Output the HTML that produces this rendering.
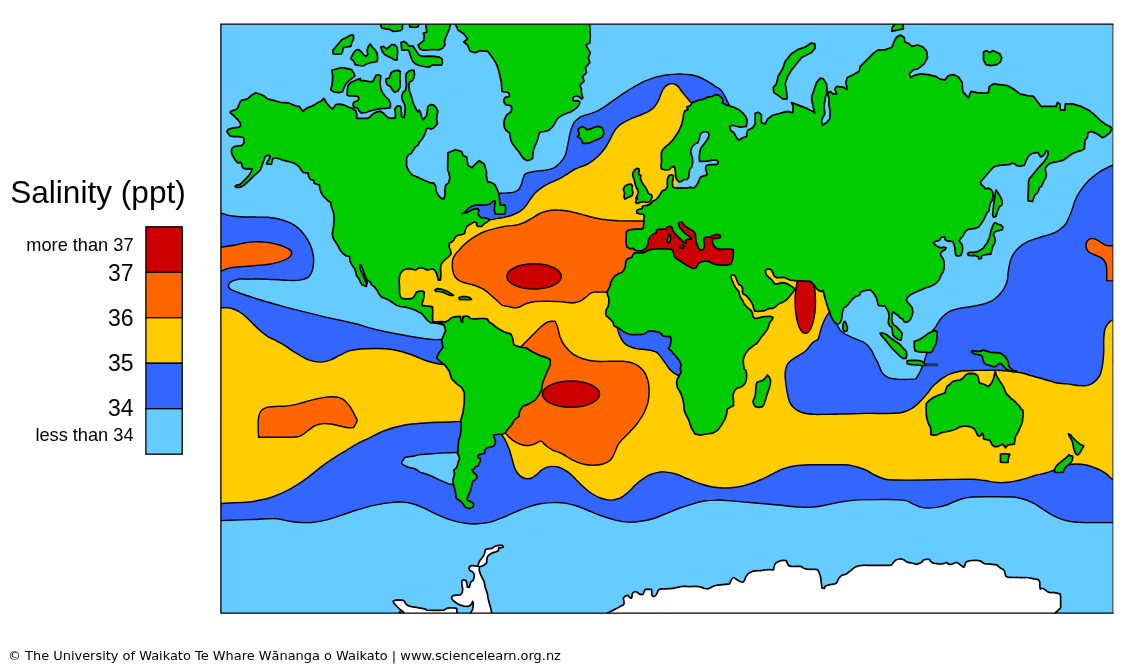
<!DOCTYPE html>
<html lang="en">
<head>
<meta charset="utf-8">
<title>Salinity (ppt)</title>
<style>
html,body{margin:0;padding:0;background:#fff;}
body{width:1130px;height:672px;position:relative;overflow:hidden;font-family:"Liberation Sans",sans-serif;color:#000;}
#map{position:absolute;left:0;top:0;width:1130px;height:672px;}
#map .s{stroke:#000;stroke-width:1.45;stroke-linejoin:round;}
#map .c{stroke-width:1.7;}
#map .a{stroke-width:1.7;}
#map .ns{stroke:none;}
.title{position:absolute;left:10.2px;top:174.3px;font-size:31.6px;line-height:36px;white-space:nowrap;}
.lab{position:absolute;right:996.5px;white-space:nowrap;text-align:right;}
.sm{font-size:18.2px;line-height:20px;}
.lg{font-size:23px;line-height:24px;}
.legend{position:absolute;left:145.3px;top:226px;width:35.3px;border:1.3px solid #000;box-sizing:content-box;}
.legend div{height:45.5px;box-sizing:border-box;border-bottom:1.3px solid #000;}
.legend div:last-child{border-bottom:none;}
.footer{position:absolute;left:8px;top:647.7px;font-family:"DejaVu Sans","Liberation Sans",sans-serif;font-size:12.95px;line-height:16px;white-space:nowrap;}
</style>
</head>
<body>
<svg id="map" width="1130" height="672" viewBox="0 0 1130 672">
<defs><clipPath id="frame"><rect x="220.9" y="24.2" width="891.9" height="589"/></clipPath></defs>
<rect x="220.9" y="24.2" width="891.9" height="589" fill="#66ccff"/>
<g clip-path="url(#frame)">
<path class="s" fill="#3366ff" d="M215,212.6C217.1,212.8 219.2,212.8 221.3,213.2C223.4,213.6 225.3,214.6 227.6,215.1C229.9,215.6 232.2,216 235.1,216.3C238,216.7 241.6,216.9 245.2,217C248.7,217.1 252.7,216.9 256.5,217C260.2,217 264.2,217 267.8,217.3C271.3,217.7 274.7,218.2 277.8,218.8C281,219.5 283.9,220.3 286.6,221.4C289.4,222.4 291.9,223.7 294.2,225.1C296.5,226.6 298.6,228.3 300.5,230.2C302.3,232 304,234.3 305.5,236.4C306.9,238.5 308.2,240.6 309.2,242.7C310.3,244.8 311.1,246.9 311.8,249C312.4,251.1 313,253.2 313.3,255.3C313.6,257.4 313.7,259.5 313.6,261.6C313.6,263.7 313.4,265.9 313,267.9C312.6,269.8 312,271.9 311.1,273.5C310.3,275.1 309.4,276.3 308,277.3C306.6,278.3 304.8,278.9 303,279.4C301.1,279.9 299.2,280.3 296.7,280.4C294.2,280.6 291,280.5 287.9,280.4C284.7,280.3 281.2,280 277.8,279.8C274.5,279.6 271.1,279.3 267.8,279.2C264.4,279 261.1,278.9 257.7,278.9C254.4,278.9 250.6,279.1 247.7,279.2C244.7,279.2 242.2,278.9 240.1,279C238,279.2 236.6,279.6 235.1,280.1C233.6,280.5 232.3,280.9 231.3,281.6C230.3,282.2 229.5,283 229.1,283.8C228.6,284.6 228.4,285.5 228.6,286.3C228.7,287.2 229.2,288.1 230.1,288.8C231,289.6 232.2,290 233.8,290.7C235.5,291.5 237.8,292.4 240.1,293.2C242.4,294.1 244.9,294.9 247.7,295.8C250.4,296.7 253.5,297.7 256.5,298.7C259.4,299.6 262.1,300.5 265.3,301.4C268.4,302.3 272,303.2 275.3,304.2C278.7,305.1 282,306.2 285.4,307.1C288.7,308 292.1,308.7 295.4,309.6C298.8,310.4 302.1,311.3 305.5,312.1C308.8,312.9 312.2,313.8 315.5,314.6C318.9,315.4 322.2,316.3 325.6,317.1C328.9,317.9 332.3,318.5 335.6,319.3C339,320 342.1,320.7 345.7,321.5C349.3,322.3 351.7,322.6 357,324C362.3,325.5 370.6,328.3 377.8,330C385,331.8 393.2,333.2 400.3,334.5C407.4,335.9 414.9,337.2 420.4,338C425.8,338.9 429.1,339.3 432.9,339.5C436.6,339.8 439.6,339.5 442.9,339.5L455.4,345L455.4,377.6L320.2,377.6L240,345L215,330.3L215,212.6Z"/>
<path class="s" fill="#3366ff" d="M215,520.6C216.8,520.6 217.2,520.7 220.5,520.6C223.8,520.5 230.1,520.3 235,520.1C240,519.9 245.1,519.8 250.1,519.6C255.1,519.4 260.5,519 265.1,518.8C269.7,518.7 273.4,518.4 277.6,518.8C281.8,519.3 286,520.7 290.1,521.3C294.3,522 298.5,522.5 302.7,522.6C306.8,522.7 311,522.6 315.2,522.1C319.4,521.6 323.5,520.7 327.7,519.6C331.9,518.5 336,517 340.2,515.6C344.4,514.2 348.6,512.7 352.7,511.3C356.9,510 361.1,508.7 365.3,507.6C369.4,506.4 373.6,505.4 377.8,504.6C382,503.7 386.1,503 390.3,502.6C394.5,502.1 399.1,501.8 402.8,502.1C406.6,502.3 409.5,502.9 412.8,503.8C416.2,504.7 419.5,506.1 422.9,507.6C426.2,509 429.5,511 432.9,512.6C436.2,514.2 439.6,515.7 442.9,517.1C446.2,518.4 449.2,519.5 452.9,520.6C456.7,521.6 461.3,522.8 465.4,523.3C469.6,523.9 473.8,524.1 478,523.8C482.1,523.6 486.4,523.1 490.5,522.1C494.6,521 498.5,519.3 502.6,517.6C506.7,515.9 511,513.8 515.1,512.1C519.3,510.3 523.5,508.4 527.7,507.1C531.8,505.7 536,504.6 540.2,503.8C544.4,503.1 548.5,502.7 552.7,502.6C556.9,502.4 561,502.4 565.2,503.1C569.4,503.7 573.6,504.9 577.7,506.3C581.9,507.7 586.1,509.7 590.3,511.3C594.4,513 598.6,514.9 602.8,516.3C607,517.8 611.1,519.1 615.3,520.1C619.5,521 623.7,521.9 627.8,522.1C632,522.3 636.2,521.9 640.4,521.3C644.5,520.8 648.7,520.1 652.9,518.8C657.1,517.6 661.2,515.5 665.4,513.8C669.6,512.2 673.7,510.4 677.9,508.8C682.1,507.3 686.3,505.8 690.4,504.6C694.6,503.3 698.8,502.1 703,501.3C707.1,500.6 711.4,500.2 715.5,500.1C719.6,499.9 722.7,500.2 727.6,500.6C732.6,500.9 738.9,501.5 745.1,502.1C751.4,502.6 758.5,503.2 765.2,503.8C771.9,504.4 779.4,505.3 785.2,505.8C791.1,506.4 795.6,506.9 800.2,507.1C804.8,507.3 808.6,507.4 812.8,507.1C816.9,506.7 820.7,505.9 825.3,505.1C829.9,504.2 835.3,502.9 840.3,502.1C845.3,501.2 849.1,500.5 855.3,500.1C861.6,499.6 869.9,499.6 877.9,499.6C885.8,499.6 897.1,499.3 902.9,500.1C908.8,500.8 910,502.6 912.9,503.8C915.9,505 917.9,506.4 920.5,507.1C923,507.8 925,508.1 928,508.1C930.9,508.1 934.8,507.6 938,507.1C941.2,506.5 944.8,505.6 947.2,504.8C949.5,504.1 949.7,503.6 952.2,502.6C954.7,501.6 958.9,499.7 962.2,498.8C965.5,497.9 967.2,497.4 972.2,497C977.2,496.7 985.6,496.8 992.3,496.8C998.9,496.8 1007.3,496.7 1012.3,497C1017.3,497.4 1019,497.9 1022.3,498.8C1025.6,499.7 1029,500.9 1032.3,502.6C1035.7,504.2 1039,506.7 1042.3,508.8C1045.7,510.9 1049,513.3 1052.4,515.1C1055.7,516.9 1059,518.5 1062.4,519.6C1065.7,520.7 1068.6,521.3 1072.4,521.8C1076.2,522.3 1080.7,522.5 1084.9,522.6C1089.1,522.7 1092.8,522.6 1097.4,522.6C1102.1,522.6 1109.2,522.6 1113,522.6C1116.7,522.6 1117.6,522.6 1120,522.6L1120,440L700,440L520,440L505,428L485,428L480,415L210,415L215,520.6Z"/>
<path class="s" fill="#3366ff" d="M1116.2,164.5C1115.1,164.7 1114.3,164.9 1113,165.3C1111.8,165.7 1110.2,166.3 1108.6,167C1107.1,167.7 1105.3,168.5 1103.6,169.5C1101.9,170.4 1100.3,171.5 1098.6,172.6C1096.9,173.8 1095.2,175 1093.6,176.4C1091.9,177.8 1090.1,179.2 1088.5,180.8C1087,182.4 1085.5,184.1 1084.1,185.8C1082.8,187.5 1081.5,189.2 1080.4,190.8C1079.2,192.5 1078.2,194.1 1077.2,195.9C1076.3,197.6 1075.4,199.6 1074.7,201.5C1074,203.4 1073.5,205.3 1072.8,207.2C1072.2,209.1 1071.7,210.9 1070.9,212.8C1070.2,214.7 1069.3,216.7 1068.4,218.5C1067.6,220.3 1067,222.3 1065.9,223.8C1064.9,225.3 1063.6,226.3 1062.1,227.5C1060.7,228.8 1059,230.2 1057.1,231.3C1055.2,232.4 1053.1,233.2 1050.8,234.1C1048.5,234.9 1045.8,235.6 1043.3,236.3C1040.8,237.1 1038.3,237.8 1035.8,238.6C1033.2,239.4 1030.5,240.3 1028.2,241.4C1025.9,242.5 1023.8,243.8 1021.9,245.1C1020,246.5 1018.4,248 1016.9,249.5C1015.4,251.1 1014.2,252.8 1013.1,254.6C1012.1,256.3 1011.3,258.2 1010.6,260.2C1009.9,262.2 1009.5,264.4 1009.1,266.5C1008.7,268.6 1008.4,270.7 1008.1,272.8C1007.8,274.9 1007.9,277 1007.5,279.1C1007.1,281.2 1006.4,283.4 1005.6,285.3C1004.8,287.3 1003.7,289.2 1002.5,291C1001.2,292.8 999.6,294.5 998.1,296C996.5,297.6 994,299.4 993,300.2C992,301 993.2,300.4 992,300.9C990.8,301.4 987.8,302.7 985.7,303.4C983.6,304.1 981.5,304.6 979.4,305C977.3,305.5 975.2,305.9 973.2,306.3C971.1,306.7 969,306.9 966.9,307.2C964.8,307.5 962.7,307.6 960.6,308.1C958.5,308.5 956.2,309.1 954.3,309.7C952.4,310.3 950.8,310.7 949.3,311.6C947.7,312.4 946.2,313.6 944.9,314.7C943.5,315.9 942.3,317.1 941.1,318.5C940,319.8 938.9,321.4 938,322.9C937,324.4 936.3,326 935.5,327.3C934.6,328.5 933.8,329.3 932.9,330.4C932.1,331.5 930.6,332.3 930.4,333.9C930.3,335.5 932.7,336.9 932.2,340C931.6,343.1 928.6,348.6 927.1,352.6C925.7,356.5 924.6,360.5 923.4,363.8C922.1,367.2 920.9,370.1 919.6,372.6C918.4,375.1 917.1,376.8 915.9,378.9C912.9,379 910.2,379.3 907.1,379.4C904,379.4 900.2,379.4 897.1,379.1C894,378.8 890.8,378.7 888.3,377.6C885.8,376.5 883.7,374.9 882.1,372.6C880.4,370.3 879.6,366.5 878.3,363.8C877,361.1 875.6,358.8 874.5,356.5C873.3,354.2 872.5,352.1 871.3,350.2C870.2,348.3 868.8,346.5 867.5,345.2C866.3,343.9 864.7,342.9 863.8,342.3C862.8,341.7 863.1,341.9 862,341.4C860.9,341 858.6,340.2 857,339.5C855.3,338.9 853.8,338.1 851.9,337.3C850.1,336.4 847.4,335.4 845.7,334.4C843.9,333.4 842.4,332.3 841.3,331.3C840.1,330.2 839.5,329 838.8,327.9C838,326.7 837.5,325.5 836.9,324.3L830,300L830,290L790,340L775,380L780,425L900,425L1000,425L1060,400L1105,380L1125,330L1116.2,164.5Z"/>
<path class="s" fill="#3366ff" d="M730,106.4C727.3,101.4 724.4,94.7 722,91.4C719.6,88.1 717.8,88.1 715.7,86.6C713.6,85.1 711.5,83.7 709.4,82.4C707.3,81.1 705.2,79.9 703.2,78.8C701.1,77.8 699,77 696.9,76.3C694.8,75.7 692.9,75.2 690.6,74.8C688.3,74.5 685.6,74.2 683,74.1C680.5,73.9 678,73.9 675.5,74.1C673,74.2 670.5,74.5 668,74.8C665.5,75.2 662.7,75.6 660.4,76.1C658.1,76.5 656.2,77 654.1,77.6C652,78.2 650,79 647.9,79.9C645.8,80.7 643.7,81.6 641.6,82.6C639.5,83.7 637.4,84.9 635.3,86.1C633.2,87.4 631.1,88.6 629,89.9C626.9,91.2 624.8,92.5 622.7,93.9C620.6,95.3 618.5,96.9 616.4,98.3C614.3,99.8 612.3,101.3 610.2,102.7C608.1,104.2 606,105.8 603.9,107.1C601.8,108.5 599.7,109.8 597.6,110.9C595.5,111.9 593.4,112.7 591.3,113.4C589.2,114.1 586.9,114.7 585,115.3C583.1,115.9 581.8,115.9 580,117.2C578.2,118.4 575.6,120.1 574,122.7C572.4,125.3 571.3,128.9 570.2,132.7C569.2,136.5 568.6,141.5 567.7,145.2C566.9,149 566.5,152.3 565.2,155.2C564,158.2 562.1,160.7 560.2,162.8C558.3,164.8 556.5,166.5 554,167.8C551.4,169 548.5,169.6 545.2,170.3C541.8,170.9 537.2,170.9 533.9,171.5C530.6,172.1 527.3,172.6 525.5,173.8C523.7,175 523.7,176.9 523,178.8C522.3,180.7 521.9,183.2 521.1,185.1C520.3,187 519.3,188.9 518,190.1C516.6,191.3 514.8,191.9 512.9,192.4C511.1,192.8 508.7,192.7 506.7,192.9C504.6,193 502.5,193.1 500.4,193.2L495.3,195.1L467.7,206.4L460.2,214L480.3,220.3L489.1,222.8L518,217.8L543.1,195.1L572,177.5L615.3,157.7L665.4,107.7L703,105.2L730,106.4Z"/>
<path class="s" fill="#ffcc00" d="M215,307.7C217.1,307.7 219.2,307.7 221.3,307.7C223.4,307.7 225.7,307.5 227.6,307.7C229.5,307.9 230.9,308.2 232.6,308.7C234.3,309.2 235.9,310 237.6,310.8C239.3,311.7 241,312.7 242.6,314C244.3,315.2 246,316.8 247.7,318.4C249.3,320 251,321.7 252.7,323.4C254.4,325.1 256.1,326.9 257.7,328.4C259.4,330 261.1,331.5 262.8,332.8C264.4,334.2 265.9,335.4 267.8,336.6C269.7,337.8 272,338.7 274.1,339.7C276.2,340.8 278.3,341.7 280.3,342.9C282.4,344 284.5,345.3 286.6,346.7C288.7,348 289.4,348.9 292.9,351.1C296.4,353.2 303.1,357.7 307.7,359.6C312.2,361.4 316.4,362 320.2,362.1C323.9,362.2 326.9,361.2 330.2,360.1C333.5,358.9 336.9,356.6 340.2,355.1C343.6,353.5 346.1,351.6 350.2,350.6C354.4,349.5 359.4,349.1 365.3,348.8C371.1,348.5 379.5,348.4 385.3,348.8C391.1,349.2 395.3,350.1 400.3,351.3C405.3,352.6 410.8,354.6 415.4,356.3C419.9,358 424.1,360.1 427.9,361.3C431.6,362.6 435.2,363.3 437.9,363.8C440.6,364.4 442.1,364.3 444.2,364.6L465.4,382.6L467.9,421.4C465.9,421.4 466.3,421.3 461.7,421.4C457.1,421.6 446.5,421.9 440.4,422.2C434.3,422.4 430.9,422.5 425,423C419.1,423.5 411.7,423.8 405,425C398.3,426.2 391.7,428 385,430.5C378.3,433 369.7,437.8 365,440C360.3,442.2 360,442.1 357,443.8C354,445.4 350.7,447.7 346.9,450.1C343.2,452.4 338.6,454.9 334.4,457.6C330.2,460.3 326,463.2 321.8,466.4C317.6,469.5 313.4,473.3 309.2,476.4C305.1,479.6 300.9,482.6 296.7,485.2C292.5,487.9 288.3,490.2 284.1,492.2C279.9,494.1 275.7,495.8 271.5,497.2C267.4,498.5 263.2,499.5 259,500.3C254.8,501.2 250.6,501.8 246.4,502.2C242.2,502.6 238,502.6 233.8,502.8C229.7,503 224.4,503.3 221.3,503.5C218.1,503.6 217.1,503.5 215,503.6L215,307.7Z"/>
<path class="s" fill="#ffcc00" d="M488.4,220.3C489.5,220.1 490,220 491.6,219.6C493.1,219.3 495.6,218.8 497.9,218.4C500.2,218 503.1,217.6 505.4,217.1C507.7,216.6 509.6,216 511.7,215.2C513.8,214.5 516.1,213.8 518,212.7C519.8,211.7 521.5,210.3 523,209C524.5,207.6 525.5,206.2 526.8,204.6C528,202.9 529.1,200.9 530.5,198.9C532,196.9 533.7,194.5 535.6,192.6C537.4,190.7 539.5,189.2 541.8,187.6C544.1,186 546.7,184.6 549.4,183.2C552.1,181.8 555.5,180.8 558.2,179.4C560.9,178.1 562.9,176.8 565.7,175C568.6,173.3 571.6,170.9 575.2,169C578.9,167.2 584,166.1 587.8,164C591.5,161.9 594.9,159.2 597.8,156.5C600.7,153.8 603.2,150.6 605.3,147.7C607.4,144.8 608.9,141.4 610.2,139.2C611.4,136.9 611.7,135.8 612.7,134.1C613.6,132.5 614.6,130.7 615.8,129.1C617.1,127.5 618.6,126 620.2,124.7C621.8,123.5 623.6,122.5 625.2,121.6C626.9,120.6 628.4,119.9 630.3,119.1C632.2,118.2 634.5,117.4 636.5,116.5C638.6,115.7 640.8,114.9 642.8,114C644.8,113.2 646.8,112.5 648.5,111.5C650.2,110.6 651.6,109.5 652.9,108.4C654.1,107.2 655.1,106 656,104.6C657,103.2 657.8,101.8 658.5,100.2C659.3,98.6 659.8,96.8 660.4,95.2C661.1,93.6 661.6,92.1 662.3,90.8C663,89.4 663.9,88.1 664.8,87C665.8,86 666.8,85.1 668,84.5C669.1,83.9 670.5,83.6 671.7,83.6C673,83.6 674.4,83.9 675.5,84.5C676.7,85.1 677.7,86 678.6,87C679.6,88.1 680.2,89.5 681.2,90.8C682.1,92 683.3,93.3 684.3,94.6C685.3,95.8 686.4,97.1 687.4,98.3C688.5,99.6 689.8,101.2 690.6,102.1C691.4,103 691.6,103.1 692.1,103.6L688,155.1L694.2,192.8L765.2,245.1L785.2,262.7L800.4,272.6L833.1,297.7L829.3,312.2C828.5,313.4 827.7,314.6 826.8,315.9C826,317.3 825.1,318.5 824.3,320.3C823.5,322.1 822.5,324.5 821.8,326.6C821.1,328.7 820.5,330.8 819.9,332.9C819.3,335 819.2,337.6 818,339.2C816.8,340.8 814.9,340.5 812.8,342.5C810.6,344.6 808.2,348.8 805.2,351.3C802.3,353.8 798.2,355.5 795.2,357.6C792.3,359.7 789.4,361.3 787.7,363.8C786,366.3 785.5,369.5 785.2,372.6C784.9,375.7 785.3,378.9 785.7,382.6C786.1,386.4 787,391.8 787.7,395.1C788.4,398.5 789.2,400.8 790,402.7C790.8,404.6 791.5,405.3 792.5,406.5C793.6,407.6 794.8,408.7 796.3,409.6C797.7,410.6 799.4,411.5 801.3,412.2C803.2,412.8 805.3,413.4 807.6,413.8C809.9,414.2 811.8,414.3 815.1,414.4C818.5,414.5 823.5,414.3 827.7,414.3C831.9,414.2 836.1,414.1 840.3,414C844.5,414 848.6,413.9 852.8,413.8C857,413.7 861.2,413.5 865.4,413.4C869.6,413.3 873.8,413.4 878,413.4C882.2,413.4 886.8,413.5 890.5,413.4C894.3,413.3 897.9,413.2 900.6,412.8C903.3,412.4 905,411.6 906.9,410.9C908.8,410.2 910.2,409.4 911.9,408.4C913.6,407.3 915.2,406.1 916.9,404.6C918.6,403.1 920.3,401.4 921.9,399.6C923.6,397.8 925.2,396.1 927,393.9C928.7,391.7 930.8,388.5 932.6,386.5C934.4,384.5 935.8,383.6 937.6,382.1C939.4,380.6 941.2,379.1 943.3,377.7C945.4,376.3 947.8,374.9 950.2,373.9C952.6,372.9 955.2,372.2 957.7,371.7C960.2,371.1 962.3,371 965.3,370.8C968.2,370.6 972,370.5 975.3,370.4C978.7,370.3 982,370.2 985.4,370.2C988.7,370.1 992.1,370.1 995.4,370.2C998.8,370.3 1002.3,370.5 1005.5,370.8C1008.6,371 1011.3,371.2 1014.3,371.7C1017.2,372.1 1020.1,372.6 1023.1,373.3C1026,374 1028.9,375 1031.9,375.8C1034.8,376.7 1037.7,377.5 1040.7,378.3C1043.6,379.2 1046.7,380.1 1049.5,380.8C1052.2,381.6 1054,382.5 1057,383C1060,383.5 1063.6,383.4 1067.4,383.9C1071.2,384.3 1076.4,385.4 1079.9,385.6C1083.5,385.8 1086.2,385.8 1088.7,385.1C1091.2,384.4 1093.1,383 1094.9,381.4C1096.8,379.7 1098.7,377.8 1099.9,375.1C1101.2,372.4 1101.8,368.8 1102.5,365.1C1103.1,361.3 1103.5,356.7 1103.7,352.6C1103.9,348.4 1103.5,344 1103.7,340C1103.9,336.1 1104.1,331.9 1105,329C1105.8,326.2 1107.4,324.3 1108.7,322.8C1110,321.2 1111.1,320.6 1113,319.8C1114.8,318.9 1117.6,318.4 1120,317.8L1120,479.5C1117.6,479.5 1115.5,480.6 1113,479.5C1110.5,478.4 1108,474.7 1105,472.8C1102,470.8 1098.3,469.1 1094.9,467.8C1091.6,466.4 1088.3,465.4 1084.9,464.8C1081.6,464.1 1078.2,463.8 1074.9,464C1071.6,464.2 1068.2,464.8 1064.9,465.8C1061.5,466.7 1058.2,468.5 1054.9,469.8C1051.5,471 1048.2,472.3 1044.8,473.3C1041.5,474.2 1038.6,474.5 1034.8,475.5C1031.1,476.6 1026.5,478.4 1022.3,479.5C1018.1,480.6 1014,481.5 1009.8,482C1005.6,482.5 1001.4,482.8 997.3,482.5C993.1,482.3 988.9,481.1 984.7,480.5C980.6,480 978.5,479.4 972.2,479.3C966,479.1 955.5,479.4 947.2,479.5C938.8,479.6 930.5,479.9 922.1,480C913.8,480.1 903.3,480.2 897.1,480C890.8,479.9 888.3,479.9 884.6,479C880.8,478.2 877.7,476.5 874.5,475C871.4,473.5 869,471.4 865.8,470C862.6,468.6 858.7,467.4 855.3,466.5C851.9,465.6 849.9,465 845.3,464.8C840.7,464.5 833.6,464.8 827.8,464.8C821.9,464.8 815.7,464.6 810.3,464.8C804.8,464.9 799.8,465 795.2,465.8C790.6,466.5 786.5,467.7 782.7,469C779,470.3 776,472.1 772.7,473.8C769.4,475.4 766.4,477.1 762.7,478.8C758.9,480.4 754.3,482.4 750.2,483.8C746,485.2 741.8,486.3 737.6,487C733.5,487.7 729.3,488 725.1,488C720.9,488 716.8,487.7 712.6,487C708.4,486.3 704.2,485.2 700.1,483.8C695.9,482.4 691.7,480.4 687.5,478.8C683.4,477.1 678.8,474.9 675,473.8C671.3,472.6 667.4,472.3 665,472C662.6,471.7 662.8,471.6 660.4,472C658,472.4 653.3,473.4 650.4,474.5C647.4,475.6 645.4,477 642.9,478.8C640.4,480.5 637.8,482.7 635.3,485C632.8,487.3 630.3,490.4 627.8,492.5C625.3,494.7 623.2,496.8 620.3,498C617.4,499.3 613.6,500.1 610.3,500.1C607,500.1 603.4,499.1 600.3,498C597.2,497 594,494.9 591.8,493.5C589.5,492.1 588.4,491.1 586.8,489.7C585.1,488.3 583.4,486.9 581.7,485.3C580.1,483.7 578.4,481.9 576.7,480.3C575,478.6 573.4,476.7 571.7,475.2C570,473.7 568.3,472.4 566.7,471.2C565,470.1 563.3,469.1 561.6,468.3C560,467.6 558.3,467 556.6,466.7C554.9,466.4 553.3,466.3 551.6,466.4C549.9,466.6 548.2,466.8 546.5,467.4C544.9,468.1 543.1,469.1 541.5,470.2C540,471.3 538.6,473 537.1,474.2C535.7,475.4 534.3,476.7 532.7,477.5C531.2,478.3 529.4,478.8 527.7,478.8C526,478.8 524.2,478.3 522.7,477.5C521.1,476.7 519.5,475.4 518.3,474C517,472.6 516,470.7 515.1,469C514.3,467.2 513.9,465.4 513.2,463.3C512.6,461.2 512,458.6 511.4,456.4C510.7,454.2 510.2,452.2 509.5,450.1C508.7,448 507.8,445.7 507,443.8C506.1,441.9 505.3,440.3 504.5,438.8C503.6,437.3 502.8,436.3 501.9,435L500.4,431.3L490.1,395.1L477.6,332.5L455.4,327.9L432.5,322.3L427.8,312.8L411.4,304L397.6,300.9L392.6,287.7L392.6,262.6L430.3,262.6L445.3,250L446.3,240.4L460.2,229.1L472.7,220.3L482.8,221.5L488.4,220.3Z"/>
<path class="s" fill="#3366ff" d="M615.8,325.3C616.2,325.9 616.6,326.1 617,327.2C617.4,328.2 617.8,330 618.3,331.6C618.8,333.1 619.4,335 620.2,336.6C620.9,338.2 621.6,339.6 622.7,341C623.7,342.4 625,343.7 626.4,344.8C627.9,345.8 629.6,346.6 631.5,347.3C633.4,348 635.7,348.6 637.8,348.9C639.8,349.3 641.9,349.2 644,349.4C646.1,349.6 648.4,349.8 650.3,350.2C652.2,350.6 654,351.1 655.3,351.7C656.7,352.3 656.9,352.1 658.5,353.9C660.1,355.8 663.5,360.6 665,362.7C666.5,364.8 666.6,365.2 667.5,366.4C668.5,367.7 669.5,369.1 670.7,370.2C671.8,371.4 673.3,372.6 674.4,373.4C675.6,374.1 676.7,374.6 677.6,375C678.4,375.3 678.8,375.3 679.5,375.5L690.1,367.7L690.1,332.5L640.3,325.3L615.8,325.3Z"/>
<path class="ns" fill="#66ccff" d="M678.5,180.9 674.8,187.8 690.5,190.3 700.5,182.8 709.3,175.2 709.3,166.4 719.4,163.9 719.4,158.9 710.6,130 698,130 688,142.6 686.7,167.7 688,180.3Z"/>
<path class="s" fill="#ff6600" d="M215,247.5C217.1,247.4 219.2,247.3 221.3,247.1C223.4,246.9 225.3,246.6 227.6,246.2C229.9,245.9 232.6,245.5 235.1,245C237.6,244.5 240.1,243.8 242.6,243.4C245.2,242.9 247.7,242.3 250.2,242.1C252.7,241.8 255.2,241.8 257.7,241.8C260.2,241.8 262.8,241.8 265.3,242.1C267.8,242.3 270.3,242.8 272.8,243.4C275.3,243.9 278,244.5 280.3,245.2C282.6,246 285,246.9 286.6,247.8C288.3,248.6 289.6,249.4 290.4,250.3C291.2,251.1 291.7,251.8 291.7,252.8C291.7,253.7 291.2,254.9 290.4,255.9C289.6,257 288.3,258.1 286.6,259.1C285,260 282.6,260.8 280.3,261.6C278,262.3 275.3,262.9 272.8,263.5C270.3,264 267.8,264.4 265.3,264.7C262.8,265 260.2,265.1 257.7,265.3C255.2,265.6 252.7,265.8 250.2,266C247.7,266.2 245.2,266.4 242.6,266.6C240.1,266.8 237.6,266.9 235.1,267.2C232.6,267.5 229.9,267.9 227.6,268.5C225.3,269.1 223.4,270.5 221.3,271C219.2,271.5 217.1,271.4 215,271.6L215,247.5Z"/>
<path class="s" fill="#ff6600" d="M258.6,437.2C258.5,434.9 258.3,432.7 258.2,430.3C258.2,427.9 258.1,425 258.2,422.7C258.3,420.4 258.4,418.3 258.8,416.4C259.3,414.6 259.8,412.8 260.7,411.4C261.7,410.1 262.9,409 264.5,408.3C266.1,407.5 268,407.1 270.2,406.8C272.4,406.5 275.2,406.5 277.7,406.4C280.2,406.3 282.7,406.3 285.2,406.1C287.8,405.9 290.3,405.6 292.8,405.1C295.3,404.7 297.8,403.9 300.3,403.2C302.8,402.6 305.3,401.8 307.9,401.1C310.4,400.4 312.9,399.7 315.4,399.1C317.9,398.5 320.4,398 322.9,397.6C325.5,397.2 328.2,396.8 330.5,396.7C332.8,396.6 334.9,396.7 336.8,397C338.6,397.3 340.3,397.9 341.8,398.6C343.3,399.3 344.3,400.2 345.6,401.4C346.8,402.6 348.2,404.2 349.3,405.8C350.5,407.3 351.5,409.1 352.5,410.8C353.4,412.5 354.2,414.3 355,415.8C355.8,417.3 357,418.6 357.1,420C357.2,421.3 356.2,422.7 355.6,424C355,425.2 354.4,426.3 353.7,427.5C352.3,427.6 351.1,427.9 349.3,427.8C347.5,427.6 345.1,427.2 343,426.7C340.9,426.3 338.9,425.7 336.8,425.2C334.7,424.8 332.6,424.3 330.5,424C328.4,423.7 326.1,423.6 324.2,423.6C322.3,423.6 320.8,423.8 319.2,424.2C317.5,424.7 315.7,425.4 314.1,426.2C312.6,427.1 311.2,428.2 309.7,429.3C308.3,430.3 306.7,431.8 305.3,432.8C304,433.8 302.9,434.6 301.6,435.3C300.2,436 299.1,436.5 297.2,436.8C295.3,437.1 293.5,437.1 290.3,437.2C287,437.2 281.9,437.2 277.7,437.2C273.5,437.2 268.3,437.2 265.1,437.2C261.9,437.2 260.8,437.2 258.6,437.2Z"/>
<path class="s" fill="#ff6600" d="M642.5,221C639.4,221 636.8,221 633.1,221C629.4,221 623.7,221 620.5,220.9C617.4,220.8 616.3,220.7 614.2,220.5C612.2,220.4 610.1,220.2 608,220C605.9,219.8 603.8,219.6 601.7,219.3C599.6,218.9 597.5,218.5 595.4,218C593.3,217.5 591.2,217.1 589.1,216.5C587,215.9 584.9,215.2 582.8,214.6C580.7,214 578.6,213.5 576.5,213C574.5,212.5 572.4,211.9 570.3,211.5C568.2,211.1 566.1,210.7 564,210.5C561.9,210.2 559.8,210 557.7,210C555.6,209.9 553.5,210 551.4,210.2C549.3,210.5 547.2,210.8 545.1,211.5C543,212.1 540.9,212.9 538.8,214C536.8,215 534.7,216.5 532.6,217.8C530.5,219 528.4,220.5 526.3,221.5C524.2,222.6 521.8,223.4 520,224C518.2,224.7 517.5,225 515.5,225.3C513.4,225.6 510.4,225.6 507.9,225.9C505.4,226.2 502.9,226.7 500.4,227.2C497.9,227.7 495.1,228.4 492.8,229.1C490.5,229.7 488.6,230.2 486.5,230.9C484.5,231.7 482.4,232.4 480.3,233.5C478.2,234.5 476.1,235.9 474,237.2C471.9,238.6 469.6,240.2 467.7,241.6C465.8,243.1 464.1,244.6 462.7,246C461.2,247.5 460.3,248.8 459.2,250.2C458,251.5 456.7,252.6 455.6,254C454.6,255.5 453.5,257 452.9,258.8C452.3,260.6 452.3,263 452.3,265.1C452.3,267.2 452.5,269.5 452.9,271.4C453.3,273.2 453.8,274.9 454.8,276.4C455.7,277.9 457,279.1 458.5,280.2C460.1,281.2 462.2,282 464.2,282.7C466.2,283.3 468.4,283.6 470.5,284.2C472.6,284.8 474.7,285.4 476.8,286.2C478.9,287 481.2,287.9 483,289C484.9,290 486.4,291.4 488.1,292.7C489.7,294.1 491.4,295.7 493.1,297.1C494.8,298.6 496.6,300.2 498.1,301.5C499.7,302.9 500.7,304.5 502.5,305.3C504.3,306.1 506.9,306.1 508.8,306.5C510.7,307 512.1,307.7 513.8,307.8C515.5,307.9 517.2,307.7 518.8,307.2C520.5,306.7 522.2,305.4 523.9,304.7C525.6,303.9 527,303.3 528.9,302.8C530.8,302.3 532.9,301.8 535.2,301.5C537.5,301.3 540.2,301.3 542.7,301.3C545.2,301.2 547.8,301.2 550.3,301.3C552.8,301.3 555.3,301.4 557.8,301.5C560.3,301.7 563,301.9 565.3,302.2C567.6,302.4 569.7,302.8 571.6,302.8C573.5,302.8 575,302.6 576.7,302.2C578.3,301.7 580,301.2 581.7,300.3C583.4,299.3 585.2,297.6 586.7,296.5C588.2,295.3 589.2,294.1 590.5,293.4C591.7,292.6 592.6,292.3 594.2,292.1C595.9,291.9 598.4,292.1 600.5,292.1C602.6,292.1 604.7,292.1 606.8,292.1L613.1,287.7L630.3,290.2L628.8,265.3L641.7,254L641.7,250.3L647.7,237.7L647.7,220.7L642.5,221Z"/>
<path class="s" fill="#ff6600" d="M547.7,322C550.2,321 552.7,321.5 555.2,321.3C556,323.3 556.9,324.8 557.7,327.5C558.5,330.2 559,334.4 560.2,337.5C561.5,340.7 563.1,343.6 565.2,346.3C567.3,349 569.8,351.7 572.7,353.8C575.7,355.9 579,357.6 582.8,358.8C586.5,360.1 590.7,360.9 595.3,361.3C599.9,361.7 605.7,361.3 610.3,361.3C614.9,361.3 619.1,361 622.8,361.3C626.6,361.6 629.9,362 632.8,363.1C635.8,364.1 638.3,365.8 640.4,367.6C642.4,369.4 644,371.3 645.4,373.8C646.7,376.3 647.7,379.5 648.4,382.6C649,385.7 649.2,389.3 649.1,392.6C649,396 648.7,399.3 647.9,402.6C647,406 645.8,409.3 644.1,412.7C642.4,416 640.1,419.6 637.8,422.7C635.6,425.8 632.8,428.7 630.3,431.4C627.8,434.2 624.9,436.7 622.8,439C620.7,441.3 619.3,442.7 617.8,445.2C616.4,447.7 615.3,451.5 614.1,454C612.8,456.5 612.2,458.6 610.3,460.2C608.4,461.9 605.7,463.2 602.8,464C599.9,464.8 596.1,465.3 592.8,465.3C589.4,465.3 586.1,464.8 582.8,464C579.4,463.2 576.1,461.9 572.7,460.2C569.4,458.6 566,455.7 562.7,454C559.4,452.3 555.3,451.3 552.8,450.1C550.3,448.9 549.3,448 547.8,447C546.3,445.9 545.1,444.8 544,443.8C543,442.9 542.4,441.7 541.5,441.3C540.7,440.9 540.1,441.2 539,441.6C538,441.9 536.7,442.9 535.2,443.6C533.8,444.2 532.1,445 530.2,445.3C528.3,445.6 526,445.7 523.9,445.3C521.8,445 519.5,444.1 517.6,443.2C515.8,442.3 514.1,441.1 512.6,440.1C511.2,439 510,438 508.8,436.9C507.7,435.8 506.8,434.6 505.7,433.4L500.4,430.1L502.6,370.1L521.4,346.3C522.6,345 523.3,344.4 525.2,342.5C527,340.7 530.2,337.5 532.7,335C535.2,332.5 537.7,329.7 540.2,327.5C542.7,325.3 545.2,323 547.7,322Z"/>
<path class="s" fill="#ff6600" d="M1116.2,245.8L1113,245.8C1111.6,245.8 1110,245.9 1108.6,245.8C1107.3,245.6 1106.1,245.4 1104.9,244.9C1103.6,244.4 1102.4,243.4 1101.1,242.6C1099.8,241.8 1098.6,240.8 1097.3,240.1C1096.1,239.4 1094.8,238.8 1093.6,238.6C1092.3,238.4 1090.9,238.4 1089.8,238.8C1088.7,239.3 1087.7,240.3 1087,241.4C1086.4,242.4 1086.1,243.9 1086,245.1C1086,246.4 1086.2,247.8 1086.6,248.9C1087.1,250 1087.6,250.8 1088.5,251.7C1089.5,252.5 1090.8,253.2 1092.3,253.9C1093.8,254.6 1095.9,255.2 1097.3,255.8C1098.8,256.4 1099.9,256.9 1101.1,257.7C1102.2,258.5 1103.4,259.7 1104.2,260.8C1105.1,262 1105.7,263.2 1106.1,264.6C1106.5,266 1106.6,267.4 1106.8,269C1106.9,270.6 1106.8,272.1 1106.8,274C1106.8,276 1106.8,278.4 1106.8,280.6L1113,280.9L1116.2,280.9L1116.2,245.8Z"/>
<ellipse class="s" fill="#cc0000" cx="534.1" cy="276.4" rx="27.2" ry="12.6"/>
<ellipse class="s" fill="#cc0000" cx="571" cy="394.1" rx="28.6" ry="13.1"/>
<ellipse class="s" fill="#cc0000" cx="805.3" cy="301.5" rx="10.2" ry="32"/>
<path class="s" fill="#cc0000" d="M641.7,249.6 641.7,254 672.8,260.3 695.5,270.4 735.7,266.6 735.7,247.8 723.1,232.7 698,220.1 677.9,220.1 647.7,231.4Z"/>
<path class="s" fill="#66ccff" d="M401.6,462.8C401.4,461.2 404.1,459.1 405.3,457.2C408.7,456.7 412.9,456.2 415.4,455.7C417.8,455.3 417.1,454.9 420,454.6C422.9,454.2 428.4,454 432.6,453.7C436.8,453.4 440.9,453.1 445.1,452.9C449.3,452.7 453.5,452.6 457.7,452.4L462.7,457.7L462.7,485.3L452.9,484.3C451.6,484.3 450.2,484.4 448.9,484.1C447.6,483.7 446.8,482.9 445.1,482.2C443.5,481.5 440.9,480.6 438.8,479.7C436.8,478.7 434.7,477.5 432.6,476.5C430.5,475.6 428.4,474.8 426.3,474C424.2,473.3 421.8,473 420,472.2C418.2,471.3 417.6,470 415.4,469C413.1,468.1 408.9,467.6 406.6,466.5C404.3,465.5 401.8,464.3 401.6,462.8Z"/>
<path class="s c" fill="#00cc00" d="M234.9,186.4 236.4,185.2 239.5,184.6 242,182.7 244.5,180.2 247,177.6 249.6,174.5 251.4,171.4 252.1,168.8 248.3,168.6 244.5,168.8 242.6,167.6 241.6,163.8 240.1,161.9 238.2,163.2 235.7,160.7 233.8,157.5 232,154.4 231.3,151.3 232,148.4 234.5,146.5 238.2,145.9 242,145.3 243.7,143.4 244.2,140.3 243.3,137.5 238.9,136.7 233.8,136.7 230.1,135.9 228.2,133.4 226.9,131.5 228.2,129.6 231.3,128.3 235.7,127.7 239.5,127.1 240.8,125.2 240.1,122.7 238.2,120.2 235.7,117.6 233.2,115.1 230.7,113.2 230.1,112 232,110.7 235.1,110.1 237.6,108.2 238.9,105.1 240.1,101.9 242,100.1 245.8,99.4 248.3,98.2 250.2,96.3 252.7,94.4 255.8,92.8 258.4,93.8 262.1,95 264.6,96.3 266.5,98.2 269,99.4 272.8,100.1 276.6,101.3 280.3,102.3 285.4,102.6 289.1,103.2 292.9,104.8 296.7,106.3 299.2,106.3 301.1,108.8 303,111.4 304.8,109.5 308,107.6 311.8,106.3 314.9,104.5 318,102.6 321.2,101.1 323.8,98.3 325.3,100.8 326.9,103.3 329.4,106.4 332.6,109 334.5,106.4 335.7,104.6 340.1,104.2 344.5,105.2 348.3,107.1 352,108.3 355.8,110.8 356.7,114 356.7,118.4 361.5,118.4 367.8,118.4 370.3,116.5 372.8,114 376.5,112.1 380.3,111.2 382.8,112.7 385.3,115.2 388.5,117.8 391.6,118.4 395.4,117.8 395.4,112.7 394.8,109 396.7,106.4 399.8,105.8 401.1,107.7 401.4,112.7 401.7,117.1 404.2,117.5 404.8,112.7 405.2,107.7 404.4,103.9 402.3,100.2 401.7,96.4 402.9,92.6 405.5,90.1 406.5,85.1 405.7,78.8 406.1,73.8 408.6,71.3 411.1,70.3 414,70.3 414.5,73.8 414,77.5 412.4,80.7 409.5,81.9 409,86.3 409.5,91.4 411.1,95.1 412.4,100.2 414,105.2 416.1,109 417.8,112.1 419.3,110.2 420.5,112.7 421.5,116.5 423,119.6 424.9,117.8 426.8,115.2 427.4,110.2 427.8,106.4 430.6,104.6 433.7,105.2 436.2,107.7 437.9,111.5 436.9,115.2 436.6,119.6 437.5,123.4 435.6,125.9 433.1,128.4 430.6,129.1 428.1,127.8 426.2,129.7 425.3,132.8 423.7,136.6 421.5,139.7 419.3,142.3 417.8,145.4 415.5,146.7 413,150.4 411.1,153.9 409.1,154 406.6,157.7 406.6,166.5 409.1,171.5 412.8,175.3 417.9,177.3 424.1,180.3 430,182.6 433.8,183.2 435.7,186.3 436.3,191.4 438.2,195.1 441.3,198.3 443.8,198.9 445.1,195.1 444.8,190.1 445.7,185.1 448.8,182.6 449.9,177.5 448.8,172.5 447.6,170 447.9,152.7 455.4,149.7 461.7,151.5 462.9,155.2 466.7,157.2 467.9,165.3 471.7,167.8 475.5,164 479.2,160.7 484.2,164 486.7,172.8 486.3,173.8 486.8,178.8 487.8,181.9 491.6,182.6 494.7,184.5 496.6,188.2 498.5,192.6 499.4,197 499.7,201.4 500.4,205.2 505.4,205.2 505.6,210.2 505.1,214 500.4,214.2 495.3,214 494.3,210.2 494.7,205.2 495.1,200.8 492.8,201.4 490.3,203.9 485.3,205.2 480.3,204.9 475.2,205.2 471.5,206.4 467.7,209 464.6,212.1 462,213.7 466.4,212.7 470.2,210.8 474,209 477.5,208.7 479,210.2 477.8,213.4 479,215.9 481.5,217.8 485.3,218 488.4,218.8 489.1,220.3 487.2,221.8 484,224 481.5,226.3 478.4,226.5 476.7,225.3 476.5,222.8 474.6,221.8 471.5,223.4 468.3,225.3 466.4,227.2 465.2,230.3 464.6,233.5 461.4,234.7 457.6,235.3 455.1,237.2 453.6,240.4 451.4,242.3 449.5,242.9 449.1,246.7 450.4,250.4 451.1,253.9 451,253.8 448.5,256.9 445.3,259.4 442.8,261.9 440.9,264.5 440.6,268.8 440.9,275.1 440.3,280.2 438.4,280.2 437.6,277 436.5,273.2 434.7,270.1 432.2,268.8 429.6,269.5 427.1,270.1 424.6,268.8 421.5,267.6 418.3,268.2 415.8,269.9 413.3,269.5 410.2,268.8 407,268.6 404.5,269.5 402,271.4 400.1,273.9 399.5,277 399.1,281.4 399.5,286.4 399.5,292.7 400.1,296.5 402,298.4 405.1,298.8 410.2,298.8 413.3,297.8 415.2,294.6 416.4,292.1 419,291.2 422.7,291.2 424.2,292.1 424,295.9 423.4,299.6 422.1,303.4 422.1,305.3 425.2,305.9 430.3,306.3 432.5,306.8 432.8,311.6 432.5,316.6 432.8,321.6 436.5,321.9 441.6,321.6 445.3,321.9 448.5,320.4 450.4,318.5 452.9,317.2 456.7,316.6 460.4,316.4 461.1,321.6 462.3,322.3 462.9,316.6 466.7,316 468.6,316.6 470.5,318.5 475.5,318.9 480.5,318.5 484.3,318.5 487.4,319.1 489.3,322.3 492.5,324.1 495.6,326.7 499.4,329.2 503.8,331.7 506.9,332.9 510.7,333.9 512.6,338 513.9,345 520.1,347 526.4,348 531.4,351.3 538.9,355.1 545.2,357.1 550.2,359.6 550.2,365.1 547.7,370.1 545.2,376.3 542.7,382.6 541.4,390.1 538.9,395.1 535.2,400.1 528.9,403.9 522.6,406.4 519.6,411.4 518.9,416.4 514.2,420 513,422.5 511.1,425.7 508.6,428.2 506.7,430.7 505.5,433.2 501.7,434.1 496.7,434.5 493.5,434.8 494.1,437.6 495.4,440.7 495.1,443.9 493.5,446.4 490.4,447 486.6,447.9 484.7,450.2 484.7,453.3 481.6,453.9 478.4,454.9 477.8,457.7 480.3,458.3 480.6,460.8 479.1,463.4 478.1,465.9 475.3,466.7 474,469 472.2,470 473.4,472.5 475.9,474.4 477.2,476.9 475.9,479.4 473.4,480.7 472.2,483.2 471.5,486.3 470.9,489.5 469.6,492.6 468.4,495.1 467.1,498.3 467.8,500.8 470.3,501.4 472.8,502.7 473.8,505.2 472.8,507.1 470.3,508.3 467.8,508.3 465.2,507.1 463.4,504.6 461.5,502 459,500.2 456.4,498.3 455.8,494.5 455.2,490.7 454.2,487 453.3,483.2 452.9,480.1 453.7,476.9 454.6,473.8 453.7,470 454.6,469.6 456.4,467.8 457.7,464.6 458.3,461.5 459.6,459 459,456.4 457.7,453.9 458,450.2 458.3,445.1 458.7,440.1 460.2,436.3 460.8,431.3 461.2,425 460.8,420 463,412.7 464.3,402.6 464.3,392.6 461.8,387.6 456.8,383.9 451.8,378.9 449.3,371.3 445,365.1 440,361.3 436.6,357.6 439.1,352.6 442.9,347.5 441.7,340 444.2,333.8 445.6,330.4 444.6,326.7 443.7,324.4 439.3,323.4 435.3,322.9 430.5,322.6 427.4,320.4 424.9,317.2 422.4,314.1 419.2,312.2 415.5,310.3 410.4,308.4 405.4,307.2 400.4,306.5 396.6,305.3 392.8,302.8 389.1,300.3 385.3,298.4 381.5,297.1 379,294 377.1,290.2 374.6,287.1 371.5,284.6 370.2,282 367.7,280.2 365.8,278.3 365.2,280.2 366.7,283.9 366.4,286.4 362,284.8 360.5,282.3 359,278.7 356.4,275.4 355.8,271.6 354.5,268.5 352.1,265.3 349.9,260.9 349.5,256.3 345.7,255.7 342.6,253.1 340.1,250 337.7,245.3 335.2,241.5 332.9,237.8 332.4,233.4 333.1,229.2 333.8,224.1 334.1,219.1 333.8,214.1 332.5,209.7 331.2,205.9 330.6,202.2 328.1,200.9 325.6,198.4 323.1,195.9 321.2,192.7 319.9,189 319.3,184.9 316.8,184.2 314.3,183.3 313.6,180.2 310.5,179.5 308.6,176.4 308,172.9 303.6,172.6 301.7,170.7 299.8,167.6 297.3,165.1 294.2,163.2 290.4,161.9 286.6,161.1 282.9,160.1 279.1,158.8 275.3,157.8 273.1,158.5 272.2,160.7 271.5,164.1 266.5,163.8 267.2,161.9 269,159.4 270.3,156.9 269.7,155.3 266.5,155.7 265,156.9 264.3,159.4 263,162.6 261.7,166.3 260.2,170.1 257.7,172.6 254.6,175.1 251.4,178.3 248.3,181.4 245.2,184.2 242,186.4 239.5,187.4 236.4,187.4Z"/>
<path class="s c" fill="#66ccff" d="M359.7,265.3 360.9,264.8 362.2,267.8 363.7,272.1 365.3,276.4 366.6,280.2 367.2,283.4 366.1,283.2 364.8,279.7 362.9,275.4 361,271 359.9,267.8Z"/>
<path class="s c" fill="#00cc00" d="M455.5,24.3 458,30 463.8,33.8 467.5,38.8 463.8,42 467.5,45 470.1,51.3 475.1,52.6 480.1,50.6 487.6,51.3 492.6,57.6 496.3,63.8 498.9,71.3 501.4,82.6 502,91.5 505.1,91.9 508.3,92.5 509.5,95 508.7,96.9 505.1,97.3 503.9,99.4 504.1,102.6 505.8,104.8 509.5,105.3 511.4,106.3 511.7,109.5 510.8,112 508.3,113.6 506.1,115.8 504.5,119.5 503.9,123.9 504.5,127.7 506.4,130.8 509.5,132.7 510.2,136.5 510.8,140.3 512.4,143.4 514.6,146.5 517.1,149.7 519.6,152.8 521.5,156 524,158.9 527.1,160.6 530.3,159.7 532.5,158.5 532.8,154.7 533.4,150.3 534.7,146.5 536.3,142.8 537.8,139 538.8,134.6 539.7,132.1 544.1,131.5 548.5,130.5 551.6,127.7 554.1,124.6 556,120.8 558.5,117.6 562.3,115.1 566.7,113.2 570.5,112 573.6,110.1 576.8,107.6 579,104.8 579.9,101.9 578,100.7 574.2,101.1 572.7,99.4 573.6,96.9 576.1,95.7 579.3,96.9 581.8,99 582.8,97.5 581.8,94.4 581.2,91.3 581.5,88.9 579.7,85.1 584,81.4 582.8,76.3 586.5,72.6 585.3,67.6 589.8,62.6 588.3,57.6 590.3,52.6 585.8,45 589.8,43 590.3,35 589.5,22.5 455.5,22.5Z"/>
<path class="s c" fill="#00cc00" d="M577.4,136.5 579.3,134.6 578.6,132.1 578,129.6 579.9,127.7 582.4,126.7 584.9,127.7 586.8,129.6 590,129.2 593.1,127.7 596.2,126.7 599.4,126.4 601.9,127.7 603.4,130.2 603.8,133.4 602.5,136.5 600,138.4 596.9,139.6 593.7,140.9 590.6,142.5 586.8,143.4 583,143.4 582,140.9 580.5,138.4Z"/>
<path class="s c" fill="#00cc00" d="M773.2,87.6 776.4,83.9 778.2,76.3 782.7,68.8 785.2,61.3 791.5,53.8 797.7,49.6 805.2,47 811.5,43 814.8,43.8 815.3,48 811.5,52.6 806.5,55.1 801.5,57.6 796.5,63.8 791.5,70.1 787.7,76.3 785.2,83.9 786.5,91.4 787.2,98.9 782.7,98.9 777.7,95.1 773.9,92.6Z"/>
<path class="s c" fill="#00cc00" d="M891.7,31.3 892.4,27 896.7,22.5 902.9,22.5 903.4,28.8 897.9,30Z"/>
<path class="s c" fill="#00cc00" d="M983.5,52.1 986.7,50.6 989.8,52.6 992.8,50.6 996,52.1 999.8,53.8 1001.8,57.6 1000.3,62.1 996.8,64.6 991,65.6 986,64.6 983.5,60.1Z"/>
<path class="s c" fill="#00cc00" d="M692.5,102.6 698.8,100.1 703.8,99.1 707.5,97.2 711.9,96.5 715.7,94.7 718.8,95.3 722,97.8 723.2,101.6 722,102.8 724.5,104.1 729.5,106 733.9,107.2 739,109.7 742.7,112.9 745.9,116.7 747.1,120.4 746.4,126.4 740.1,127.2 732.6,125.2 729.6,126.4 730.6,130.2 733.9,132.7 736.4,137.7 738.9,140.2 742.6,137.7 746.4,136.5 747.6,130.2 752.7,127.7 755.2,123.9 755.2,113.2 758.2,112.2 761.4,114.7 761.4,122.7 765.2,123.9 767.7,118.9 772.7,115.2 780.2,113.2 787.7,111.4 792.7,112.7 793.2,106.4 791.5,102.6 795.2,103.9 801.5,106.4 807.8,108.9 812.8,111.4 814.8,113.2 812.8,105.2 811.5,97.6 814,90.1 816.5,82.6 820.3,78.1 823.3,78.9 826.5,83.9 827.3,91.4 825.3,97.6 824,106.4 824.8,113.9 821.5,120.2 822.3,125.2 826.5,122.7 829.8,118.9 830.3,111.4 829,105.2 829,97.6 827.3,93.9 830.3,91.4 832.8,93.9 836.6,93.9 834.8,88.9 836.6,86.4 842.8,87.1 847.3,89.6 845.8,82.6 847.3,77.6 852.8,75.1 859.1,71.3 860.3,66.3 864.1,62.6 869.1,57.6 874.1,52.6 877.9,50.1 885.4,49.6 891.7,47.5 894.2,41.3 896.7,37 900.4,35 904.2,37.5 904.9,42 909.2,43.8 911.7,46.3 917.9,45 923,47 926.7,51.3 927.5,57.6 924.2,63.8 917.9,68.8 912.9,70.1 909.2,73.8 910.4,77.6 915.4,75.1 920.5,73.8 928,74.6 935.5,76.3 939.7,78.9 944.7,80.1 948.4,75.6 953.4,74.6 958.4,77.1 962.2,82.6 962.7,91.4 966,95.1 968.5,97.6 971,91.4 977.2,92.6 984.7,93.1 988.5,92.6 989.3,86.4 993.5,83.9 999.8,84.6 1007.3,85.6 1013.5,88.9 1019.8,93.9 1027.3,95.6 1033.6,96.4 1037.3,101.4 1041.1,106.4 1049.9,106.4 1056.1,106.4 1057.4,102.6 1059.9,103.9 1060.4,110.2 1064.9,110.2 1065.4,103.9 1072.4,103.9 1081.2,106.4 1088.7,110.2 1094.9,115.2 1099.9,120.2 1105,123.9 1110,126.4 1112,128.9 1110,132.7 1105,136.5 1102.5,137.7 1097.4,134 1091.2,131.4 1087.9,132.7 1087.4,137.7 1084.9,140.2 1084.4,149 1081,150.6 1076,151.9 1072.2,153.8 1068.4,156.3 1065.3,158.8 1063.4,160.1 1058.4,161.3 1053.3,162.3 1049.6,163.6 1047.1,165.7 1045.2,168.2 1045.6,171.4 1046.4,174.5 1045.6,178.3 1043.9,180.8 1042.7,183.9 1041.4,186.4 1039.3,187.7 1038.5,190.8 1037,193.4 1034.7,195.2 1033.5,198.4 1032.6,201.5 1028.2,200.9 1028.2,194 1028.5,187.7 1028.5,181.4 1029.5,178.3 1032,175.8 1034.5,172.6 1037,169.5 1039.8,166.3 1042.7,163.2 1045.2,160.1 1047.1,156.9 1048.1,153.8 1047.7,151 1046.1,150.6 1045.2,153.1 1043.3,155.7 1040.8,156.9 1039.3,155 1038.3,152.5 1035.1,152.8 1031.4,153.8 1028.8,155.7 1027.2,158.2 1025.7,161.9 1024.4,165.1 1020.7,166.1 1016.9,165.7 1014.4,163.6 1011.2,163.2 1010,164.5 1005.6,164.8 1000.6,165.1 995.5,166.1 993,167.6 990.5,170.1 988,173.2 982.2,180 980.3,182.5 981.6,185 984.1,186.9 985.3,188.8 988.5,188.2 991,189.4 992.9,192.6 993.1,196.3 992.3,200.1 990.4,203.2 989.4,207 988.9,210.8 986.6,213.3 985.3,216.4 983.5,220.2 980.9,224 978.4,227.1 975.3,228.4 971.5,228.8 967.8,229.3 965.2,231.5 963.4,235.3 960.8,238.4 959,240.3 960.2,242.2 962.1,244.7 962.7,248.5 962.1,252.3 960.8,255.4 958.3,256 955.8,255.4 955.2,251.6 954.9,247.9 953.9,244.1 952.9,241.6 950.8,241.3 947,240.9 945.1,239.7 944.9,237.2 943.2,236.8 940.7,237.6 940.1,239.7 937.6,240.9 934.5,241.6 933.2,242.8 935.1,244.7 937.6,246.6 940.7,247.9 943.9,247.2 946.1,247.9 945.1,249.7 942.6,251 940.7,252.9 940.7,255.4 942.6,257.9 943.9,261.1 944.2,264.5 944,268.8 943,272 941.1,275.1 939.5,278.9 937.3,282 934.2,284.6 930.4,286.4 926,287.7 921.6,289.6 917.2,291.5 912.8,293.4 909.7,295.2 907.2,297.8 906.3,300.3 908.1,302.8 910.3,305.3 912.2,307.8 912.8,311.6 912.2,315.3 910.9,318.5 909.1,321 906.5,322.3 904,321.6 902.8,319.1 900.3,317.9 897.8,315.3 895.2,313.5 893.4,311.6 892.1,314.1 891.7,317.9 892.1,321.6 893.4,324.8 895.2,325.7 897.7,328.2 900.2,330.7 902.1,333.2 901.7,336.4 901.2,340.2 898.3,339.5 895.2,337.6 892.9,335.1 892.4,331.4 892,327.6 889.5,325.7 888.3,322.9 888.7,319.1 889.2,315.3 888.3,311.6 886.4,308.4 884.9,305.9 881.4,305.9 878.3,305.3 877.4,301.5 876.4,297.8 874.5,294.6 872.6,292.1 870.7,290 867.6,290.2 863.8,290.8 862,291.4 860.7,292 859.5,295.2 855.7,296.4 852.6,299 849.4,302.7 846.9,305.9 843.8,307.8 842.5,311.5 841.9,316.5 841.3,320.3 839.4,323.5 836.9,324.1 834.4,322.2 832.5,319.1 830.6,315.3 829.6,311.5 828.3,309 826.8,304 824.9,297.7 823.7,292.7 823,290.2 821.8,291.4 819.3,290.8 816.1,288.3 813.6,284.5 810.5,281.4 795.4,280.7 790.4,280.1 787.2,278.8 784.1,277.3 780.3,277.6 776.5,277.6 774,275.7 772.8,272.6 771.5,270.1 769,268.8 766.5,269.4 765.5,270.7 765.5,272.6 766.5,275.1 769,277.6 771.5,279.5 773.4,282 774.7,283.9 777.8,283.9 781.6,282.6 785.3,282.9 788.5,284.5 791.6,286.4 794.1,288.3 795.1,289.5 793.5,291.4 791,294.6 788.5,297.7 785.3,300.8 781.6,302.7 778.4,304 775.9,306.5 772.8,308.4 769.6,308.4 766.5,309.6 764,310.9 761.5,310.9 757.7,311.5 754.6,310.9 753.7,308.4 752.9,305.2 751.4,302.1 749.5,299.6 747.6,297.1 745.8,295.2 743.2,293.9 742.4,291.4 742.6,288.3 741.4,285.8 738.8,284.5 737.6,282 736.3,278.8 735.1,275.7 732.6,274.8 731.1,275.7 731.3,278.2 732.6,281.4 733.8,284.5 735.1,287 737,289.5 738.8,291.4 739.5,294.6 740.7,297.7 742.6,300.2 743.9,303.4 745.8,305.9 748.3,308.4 750.8,310.3 752.4,312.8 752.9,316.5 754.6,318.4 757.7,318.1 761.5,317.2 765.2,316.5 770.3,316.3 772.8,317.2 772.2,319.7 770.3,321.6 769,324.7 767.8,328.5 765.9,331.6 764,334.1 761.5,336.7 759,340.4 756.4,343.9 754.8,344.5 751.7,347 748.6,349.5 746.1,352.6 744.2,356.4 743.2,360.2 743.5,364.6 744.2,369 746.1,370.8 746.7,374.6 746.4,379 745.4,382.8 743.5,385.3 740.4,387.2 736.6,388.4 734.1,391.6 732.9,395.3 733.5,400.4 733.5,405.4 730.3,407.3 727.2,409.2 726.6,413.9 725.1,418.9 721.3,425.2 717.6,430.2 712.6,433.2 706.3,434 700.1,435.2 695.1,434 691.3,427.7 688.8,420.2 685,412.7 684.1,409.2 683.8,404.1 682.8,399.1 681.3,394.7 679.5,390.9 677.3,387.2 676.6,382.8 677.3,379 679.5,375.2 681.1,372.1 680.3,368.3 681.1,364.6 679.5,360.8 676.9,357.6 674.4,354.5 673.6,353.9 671.7,351.1 668.5,348.5 670.4,344.8 671.1,340.4 670.4,336.4 666.7,336.6 662.9,336 661.6,334.1 659.1,332.2 655.3,331.3 650.3,330.9 647.2,331.6 645.3,333.5 641.5,334.3 636.5,334.7 631.5,334.7 627.1,333.5 623.3,331.6 620.2,329.1 617,327.2 613.9,325.9 613.2,322.8 611.4,320.3 608.8,317.8 606.3,315.9 605.7,313.4 606.3,309.6 608.2,306.4 608.8,302.7 608.8,298.3 607.6,295.1 607,292 608.6,288.8 609.9,286.3 610.7,282.6 612.6,278.8 615.1,275.7 618.3,273.8 622,272.5 623.9,270 623.8,270.4 625.3,266.6 625.7,262.2 627,259.1 628.8,258.4 632,257.2 633.2,254 635.1,252.8 638.9,253 642,253 643.9,252.5 647.1,250.9 650.2,249.6 654,249 659,248.8 664,248.8 669.1,249 672.2,249.6 673.5,252.2 673.8,255.3 675.3,257.8 679.1,260.3 682.9,262.8 686.7,265.3 690.4,267.2 693.6,268.5 696.1,267.9 697.3,265.3 699.2,262.8 701.7,261.6 705.5,260.9 709.3,261.6 712.4,263.5 716.8,264.7 721.8,265.1 726.9,265.1 730.6,264.1 732.1,261.6 732.9,257.8 733.4,252.8 733.2,249.6 730.6,249 725.6,249 720.6,249.3 716.8,248.4 714.3,246.5 712.8,243.4 712.4,239 712.8,238.7 714.9,238.3 718.1,238.3 720.3,237.4 720.6,235.8 718.7,234.6 714.9,234.6 712.4,235.8 710.5,237.1 706.8,237.1 704.2,237.7 703.6,240.2 704.5,244 704.2,247.1 703,249.6 700.5,250 698.6,248.4 697.3,245.2 696.1,242.1 695.7,238.3 695.5,234.6 694.2,232 691.7,230.2 688.5,228.3 685.4,226.4 683.5,224.5 682.3,222 679.7,222 678.5,223.9 679.4,227 681.6,229.5 684.1,232.7 687.3,235.2 690.4,237.1 691.1,239.2 687.9,239 685.4,240.2 686,242.7 684.8,243.4 682.3,240.8 679.7,238.3 677.2,235.8 674.7,233.3 672.8,230.8 672.2,227.6 670.1,226.1 667.2,227 665.3,229.2 660.3,229.2 656.7,229.5 656.2,232.9 653.4,233.9 650.2,236.4 648.3,240.2 647.7,245.2 645.8,248.4 642.9,250.3 641.4,250.9 638.9,250.9 635.1,250.3 633.2,248.4 630.1,248.8 627,247.1 626.1,244 626.1,237.7 626.3,232 628.8,229.9 635.1,229.2 641.4,229.2 643.3,228.3 643.7,225.1 643.9,220.1 644.2,216.3 643.3,214.1 640.2,213.8 637,213.2 636.6,211.3 637.7,209.8 642.1,208.5 642.7,206 647.1,205.4 650.3,204.1 652.8,201 655.9,199.7 658.4,197.2 660.3,194.1 662.2,190.9 665.3,189.7 667.6,186.5 667.2,182.8 667.6,178.4 669.1,175.5 671.6,174.6 673.5,175.9 673.1,179 672.3,182.8 672.9,187.2 674.8,187.8 676.7,188.1 681.7,187.8 686.7,188.1 690.5,187.2 693.6,188.1 696.1,185.9 698,182.8 699.3,179.6 700.5,177.1 703.7,175.9 706.8,175.2 706.8,172.7 705.6,169 706.2,165.8 709.3,164.6 713.1,164.6 717.5,164.2 718.4,162 716.9,160.2 713.1,159.9 709.3,160.8 704.3,161.4 699.5,161.4 699.3,156.4 699.9,151.4 701.2,147.6 703.7,144.5 706.2,141.3 708.1,138.2 709.1,135 708.1,132.3 705.6,131.5 701.8,132.5 699.9,135 699.3,138.8 698,142.6 694.9,143.8 692.4,146.3 690.7,150.1 691.1,153.9 692.4,157.6 692.7,162.7 691.7,167.1 689.8,169 689.2,172.7 688.6,177.8 687.3,179.3 683.6,179.6 681.7,181.3 679.2,181.8 677.3,180.3 676,177.8 675.4,173.4 675.1,169 674.1,166.4 671.6,167.1 669.1,169.6 665.3,170 661.6,169 660.9,166.4 661.6,161.4 661.3,155.1 661.6,151.4 663.5,148.8 666,146.3 669.1,143.8 672.3,140.7 675.4,136.3 677.9,132.5 678,132.9 679.9,128.5 681.8,124.1 683,119.1 683.7,114 684.9,110.9 688.1,109.6 686.8,107.1 690,105.9Z"/>
<path class="s c" fill="#00cc00" d="M632.7,173.4 634.6,170 637.1,168.3 639,169 639.2,171.5 638.3,174 640.8,175.2 640.5,178.4 641.5,181.5 643.4,184.7 645.5,187.2 647.1,190.3 648.4,193.5 651.5,194.7 652.2,197.2 650.9,199.7 649.6,201.9 646.5,202.3 642.7,201.6 639.6,202.6 637.1,203.5 635.6,202.3 636.4,199.7 637.7,198.5 635.8,198.5 637.1,196 638.3,192.8 637.7,189.7 635.8,186.5 634.9,182.8 634.2,179.6 632.9,176.5Z"/>
<path class="s c" fill="#00cc00" d="M623.2,189.1 625.1,185.9 628.3,184.3 631.2,184 632.4,185.9 632,189.1 632.9,192.2 632.4,195.3 630.2,196.6 627,197.9 624.9,199.1 623.9,196.6 624.5,193.5 623.9,190.9Z"/>
<path class="s c" fill="#00cc00" d="M668.1,236.4 669.1,233.9 670.1,234.6 670.6,237.7 670.3,240.8 669.1,242.7 667.6,242.5 667.2,239.6Z"/>
<path class="s c" fill="#00cc00" d="M680.4,245.9 682.3,245.2 683.8,246.2 683.5,248 681.6,248.4 680.4,247.5Z"/>
<path class="s c" fill="#00cc00" d="M434.7,290 437.2,288.7 440.9,289 444.7,290.2 448.5,292.1 451.6,294 453.5,295.5 450.4,295.5 446.6,294 442.8,292.1 439.1,291.5 435.9,291.5Z"/>
<path class="s c" fill="#00cc00" d="M458.9,297.5 461.7,296.7 466.7,296.7 469.8,297.5 471.5,299.3 468,299.6 462.9,299.6 459.4,299.4Z"/>
<path class="s c" fill="#00cc00" d="M767.4,375 769.3,377.1 770.6,380.3 770.3,384 769.3,387.8 768,391.6 766.8,395.3 765.5,399.7 764.3,403.5 762.4,406.7 758.6,407.3 755.5,406.7 753.6,404.1 753,401 754.5,397.9 755.5,394.1 755.7,389.7 756.1,385.3 757,382.2 759.9,381.3 763,380.3 765.5,377.8Z"/>
<path class="s c" fill="#00cc00" d="M842.9,325.3 843.8,322.2 845,321.3 846.3,324.1 847.5,327.9 846.9,331 844.4,331.4 842.9,329.1Z"/>
<path class="s c" fill="#00cc00" d="M995.1,222.7 997.9,224 1001.1,225.2 1002.9,227.1 1002.3,229.6 999.8,230.3 996.7,230.9 994.1,232.2 993.5,235.3 994.8,237.8 995.4,240.9 994.1,244.1 992.6,247.2 991.6,250.4 991,254.1 987.9,254.4 984.1,254.8 981.6,256 981.3,258.5 979.1,258.9 978.1,256.7 975.3,255.4 971.5,255.6 968.4,255.4 967.5,253.5 969.6,252.3 974,252.3 977.8,251.6 980.9,249.7 983.5,247.9 985.3,245.3 987.2,242.8 988.5,239.7 989.7,236.5 990.4,233.4 991,230.3 992.3,227.1 993.5,224.2Z"/>
<path class="s c" fill="#00cc00" d="M996,190.1 997.9,192.6 999.8,195.7 1001.4,198.8 1002.3,202 1001.7,205.1 999.2,207 997.9,210.2 996.9,213.3 996,216.4 993.5,217.1 992.6,214.6 993.1,210.2 993.5,205.8 994.1,201.4 994.8,197 995.4,193.2Z"/>
<path class="s c" fill="#00cc00" d="M926.9,402.8 930.1,399.7 933.8,397.2 938.2,395.3 942,394 945.2,392.8 945.8,389.6 947,386.5 950.2,384 952.7,381.5 956.5,380.5 960.2,380 963.4,377.7 965.3,375.2 967.8,373.7 971.5,373.3 975.3,373.9 977.6,375.8 978.5,379 979.1,382.1 980.3,383.4 983.5,384 986,385.2 987.9,386.7 989.8,385.2 991.7,382.7 993.5,379 994.4,374.6 995.2,371.4 996.1,374.6 997.3,377.1 999.2,380.2 1001.7,384 1003.6,387.1 1004.8,390.3 1006.1,393.4 1008.6,395.9 1011.1,398.4 1014.3,400.9 1016.8,403.5 1019.3,406 1021.2,409.1 1022.8,410.1 1023.3,413.8 1022.8,417.6 1022.4,421.4 1021.2,425.1 1019.3,429.5 1017.4,433.3 1015.5,436.4 1014.9,440.2 1014.3,444.2 1010.5,444.6 1007.4,445.2 1005.5,447.8 1004.2,445.9 1002.3,444.2 999.8,445.5 997.3,446.7 994.8,446.7 992.3,445.2 991,442.7 989.8,440.2 986.6,439.6 983.5,439 983.5,435.8 982.2,432.9 981,435.2 979.1,436.4 977.2,434.6 975.9,431.4 974.1,428.7 970.9,427 967.2,426.1 963.4,426.1 959.6,427 956.5,428.7 952.7,430.2 948.9,431.2 944.5,432 940.8,432.9 937.6,434.6 933.8,435.2 930.7,434.6 931.1,431.4 930.3,427 928.6,423.9 926.9,418.8 926.3,413.8 926.1,408.8 926.3,403.8Z"/>
<path class="s c" fill="#00cc00" d="M1000.5,454 1005.5,453.8 1009.9,454 1008.6,457.2 1008.2,460.3 1008,462.5 1004.2,462.5 1000.5,462.2Z"/>
<path class="s c" fill="#00cc00" d="M971.3,351.9 972.8,350.7 975.3,351.1 977.8,351.6 980.3,351.1 983.5,350.1 986.6,351.1 990.4,352.3 995.4,352.6 999.2,352.8 1002.3,354.1 1004.8,356.3 1006.7,358.8 1008.2,362 1008.6,365.8 1010.5,368.3 1013,370.2 1016.8,371.4 1013,371.7 1009.2,370.8 1006.1,368.9 1003.6,366.4 1001.7,363.9 999.2,363.2 997.3,365.1 995.4,366.6 992.3,366.4 989.1,365.1 986,364.5 983.9,362.6 982.9,359.5 982.2,356.3 979.7,354.8 976.6,354.5 973.8,353.6Z"/>
<path class="s c" fill="#00cc00" d="M1068.4,433.9 1070.3,434.5 1072.2,437 1074.7,439.5 1077.2,442 1079.7,443.9 1082.2,445.2 1083.8,445.8 1082.5,448.3 1081,450.8 1079.5,453.4 1077.8,455 1076,454 1074.7,451.5 1073.7,448.3 1073.2,445.2 1072.4,442 1071.2,438.9 1069.4,436.4Z"/>
<path class="s c" fill="#00cc00" d="M1054.4,471.6 1054.9,468.4 1056.5,465.9 1059,463.4 1062.1,460.9 1065.3,458.4 1067.8,456.2 1069.1,454.6 1070.3,455.9 1072.4,455.9 1072.8,458.4 1071.9,460.9 1070.3,463.4 1067.8,465.3 1065.3,467.2 1064,469.7 1063.4,472.2 1059.6,472.5 1055.9,472.5Z"/>
<path class="s c" fill="#00cc00" d="M880.1,333.2 883.2,333.2 886.4,334.5 889.5,337 892.7,339.5 896.4,342 899.6,343.9 902.1,347.1 904.6,349.6 906.5,352.1 906.7,355.9 905.9,358.4 903.4,358.4 900.2,356.5 897.7,354 895.2,351.5 892,348.3 889.5,345.2 887,342 884.5,338.9 882,336.4Z"/>
<path class="s c" fill="#00cc00" d="M914.3,341.4 917.8,340.2 921.6,338.3 925.3,335.8 928.5,333.2 932.3,331.4 935.4,330.7 937.3,332 936.9,336.4 936.7,340.8 935.4,345.2 933.5,348.3 932.3,351.5 929.7,352.7 925.3,352.1 921.6,352.1 917.8,351.7 915,350.8 914.3,347.1Z"/>
<path class="ns" fill="#1c3a4a" d="M924.3,363.3 938.2,363.3 938.4,366.2 924.3,366.2Z"/>
<path class="s c" fill="#00cc00" d="M907.1,360.9 910.3,360.3 915.3,360.3 919.1,360.5 922.2,361.5 924.7,363.4 925.3,365.3 921.6,365.5 917.2,365 912.8,364.7 909,364.3 907.1,363.4Z"/>
<path class="s a" fill="#ffffff" d="M607.6,616.4L607.6,612.9C608.8,612.3 609.9,611.9 611.4,611.1C612.8,610.4 614.8,609.5 616.4,608.6C618,607.8 619.6,606.8 620.8,606.1C622,605.4 623.2,605.3 623.7,604.5C624.2,603.7 624,602.4 623.9,601.3C623.9,600.3 623.1,599 623.3,598.2C623.5,597.4 624.5,596.8 625.2,596.3C625.9,595.8 627,595.2 627.7,595.3C628.4,595.4 628.6,596.5 629.2,596.9C629.8,597.4 631,598.5 631.5,598.2C632,597.9 631.9,595.9 632.1,595.1C632.3,594.2 632.2,593.8 632.7,593.2C633.2,592.6 634.3,591.7 635,591.5C635.7,591.4 636.3,591.9 637.1,592.3C637.9,592.7 638.7,593.7 639.6,594.1C640.6,594.4 642,594.9 642.8,594.4C643.6,594 643.9,592.1 644.3,591.3C644.7,590.5 645,590 645.3,589.4C646.3,589.4 647.4,589.4 648.4,589.4C649.5,589.4 650.5,589.4 651.6,589.4C651.7,590.5 651.7,591.5 651.8,592.5C651.9,593.6 651.7,595.1 652.2,595.7C652.7,596.3 654,596.3 654.7,596.1C655.4,595.8 656.1,594.9 656.6,594.1C657.1,593.3 657.4,592.1 657.9,591.3C658.3,590.5 658.4,589.8 659.1,589.4C659.8,589 661,588.9 662.3,588.8C663.5,588.7 665.1,588.8 666.7,588.8C668.2,588.7 670.2,588.7 671.7,588.5C673.1,588.4 674.2,588 675.5,587.8C676.7,587.5 678,587.1 679.2,586.9C680.5,586.6 681.5,586.3 683,586.3C684.5,586.2 686.3,586.5 688,586.5C689.7,586.6 691.6,586.6 693,586.5C694.5,586.5 695.6,586.2 696.8,586.3C698.1,586.3 699.4,586.6 700.6,586.9C701.7,587.2 702.6,587.8 703.7,588.2C704.9,588.5 706.3,588.8 707.5,588.8C708.6,588.7 709.7,588.2 710.6,587.8C711.6,587.4 712.2,586.7 713.2,586.3C714.1,585.8 715,585.5 716.3,585.3C717.5,585 719.2,584.9 720.7,584.8C722.2,584.6 723.6,584.5 725.1,584.4C726.6,584.3 728,584.1 729.5,584C729.9,583.1 730.3,582.1 730.7,581.2C731.2,580.4 731.5,579.4 732,578.7C732.5,578.1 733.2,577.4 733.9,577.5C734.6,577.6 735.5,578.7 736.4,579.4C737.3,580 738.5,580.8 739.5,581.2C740.6,581.7 741.8,582.5 742.7,582.2C743.5,582 744,580.9 744.6,580C745.1,579.1 745.2,577.9 745.8,576.8C746.5,575.8 747.4,574.5 748.3,573.7C749.3,572.9 750.3,572.3 751.5,571.8C752.6,571.4 753.7,571.1 755.2,570.9C756.8,570.7 759.3,570.7 760.9,570.6C762.5,570.4 763.2,570.1 764.7,569.9C766.1,569.8 768.2,569.7 769.7,569.7C771.2,569.7 772.2,569.8 773.5,569.9C773.7,568.9 773.8,567.8 774.1,566.8C774.4,565.7 774.7,564.5 775.4,563.6C776,562.8 776.9,562.3 777.9,561.8C778.8,561.3 780,560.9 781,560.6C782.1,560.4 783.3,560.3 784.2,560.4C785,560.4 785.8,560.4 786.3,560.9C786.8,561.3 786.9,562.2 787.3,563C787.7,563.8 788.1,565 788.8,565.5C789.5,566.1 790.5,566.3 791.7,566.4C792.9,566.6 794.6,566.4 796.1,566.4C797.6,566.4 799.3,566.2 800.5,566.4C801.6,566.6 802.2,567.2 803,567.7C803.8,568.1 804.4,568.7 805.5,568.9C806.7,569.2 808.4,569.2 809.9,569.3C811.4,569.4 813.1,569.2 814.3,569.3C815.6,569.4 816.7,569.2 817.5,569.7C818.2,570.2 818.5,571.5 819,572.4C819.4,573.4 819.9,574.3 820.2,575.6C820.6,576.8 820.8,578.5 821,580C821.2,581.4 821.3,583 821.5,584.4C821.7,585.7 822,586.9 822.2,588.2L824.4,588.5C824.7,587.8 824.7,586.8 825.2,586.3C825.8,585.7 826.5,585.6 827.5,585.3C828.5,584.9 830,584.6 831.3,584.4C832.5,584.1 834.1,584.1 835,583.8C836,583.4 836.4,583.2 836.9,582.5C837.5,581.8 837.7,580.3 838.2,579.4C838.7,578.4 839.3,577.6 840.1,576.8C840.8,576.1 841.6,575.4 842.6,575C843.5,574.5 844.8,574.7 845.7,574.3C846.7,573.9 847.4,573.1 848.2,572.4C849.1,571.8 849.9,571.2 850.8,570.6C851.6,569.9 852.4,569 853.3,568.4C854.1,567.8 854.8,567.2 855.8,566.8C856.7,566.3 857.8,566 858.9,565.8C860.1,565.5 861.2,565.4 862.7,565.3C864.2,565.2 864.6,565.3 867.7,565.3C870.9,565.3 878,565.3 881.5,565.3C885.1,565.3 887.4,565.3 889.1,565.3C890.8,565.2 890.9,565.4 891.6,564.9C892.3,564.4 892.7,563.2 893.5,562.4C894.2,561.6 895,560.7 896,560.1C896.9,559.6 898.1,559.1 899.1,559C900.2,558.8 901.3,559 902.3,559.2C903.2,559.5 903.9,560 904.8,560.5C905.6,561 906.4,561.8 907.3,562.1C908.2,562.5 909.4,562.6 910.4,562.8C911.5,563 912.6,563.1 913.6,563.4C914.5,563.6 915.2,564.3 916.1,564.3C917,564.3 918.3,563.8 919.2,563.4C920.2,563 921.1,562.7 921.8,562.1C922.4,561.6 922.6,560.6 923.3,560.1C923.9,559.7 924.5,559.6 925.5,559.5C926.5,559.4 928.5,559.1 929.3,559.4C930.1,559.6 930.1,560.6 930.5,561.1C931,561.6 931.1,562 931.8,562.4C932.5,562.8 933.8,563.1 934.9,563.4C936.1,563.6 937.5,563.8 938.7,563.9C940,564 941.4,564 942.5,563.9C943.5,563.8 944.3,563.2 945,563C945.7,562.8 946.3,562.4 946.9,562.6C947.5,562.9 948,564 948.8,564.3C949.5,564.5 950.3,564.5 951.3,564.3C952.2,564.1 953.6,563.3 954.4,563C955.3,562.7 955.6,562.3 956.3,562.4C957,562.5 958,563.1 958.8,563.6C959.7,564.2 960.5,564.9 961.3,565.5C962.2,566.1 963,566.6 963.8,567.2C964.3,566.4 964.8,565.7 965.1,564.9C965.4,564.1 965.2,563 965.7,562.4C966.3,561.8 967.2,561.4 968.2,561.1C969.3,560.8 970.6,560.6 972,560.5C973.5,560.4 975.7,560.3 977,560.4C978.4,560.4 979.3,560.6 980.2,560.9C981,561.2 981.3,561.7 982.1,562.1C982.8,562.6 983.5,563.4 984.6,563.6C985.6,563.9 987.1,563.8 988.4,563.9C989.6,564 990.7,564.1 992.1,564.3C993.5,564.4 995.6,564.4 996.8,564.9C998,565.4 998.5,566.5 999.3,567.2C1000.1,567.8 1001,568.4 1001.8,568.9C1002.6,569.4 1003.6,569.5 1004.1,570.2C1004.6,570.9 1004.7,572.1 1005,573.1C1005.3,574 1005.3,575.3 1005.8,576C1006.4,576.7 1006.9,577 1008.1,577.2C1009.3,577.5 1011.5,577.4 1013.1,577.5C1014.8,577.5 1016.5,577.4 1018.2,577.5C1019.8,577.5 1021.7,577.7 1023.2,577.7C1024.7,577.7 1025.7,577.4 1027,577.5C1028.2,577.5 1029.5,577.8 1030.7,578.1C1032,578.3 1033.2,578.7 1034.5,579C1035.8,579.2 1037.4,579.2 1038.3,579.7C1039.1,580.2 1039.3,581.2 1039.8,581.9C1039.8,583.1 1039.7,584.5 1039.8,585.6C1039.8,586.8 1040,587.7 1040.2,588.8C1041,588.7 1041.8,588.4 1042.7,588.5C1043.5,588.7 1044.4,589.3 1045.2,589.8C1045.9,590.2 1046.3,590.8 1047.1,591.3C1047.8,591.8 1048.5,592.3 1049.6,592.5C1050.6,592.8 1052.1,592.4 1053.3,592.5C1054.6,592.7 1056,592.9 1057.1,593.2C1058.3,593.4 1059.2,593.8 1060.3,594.1C1060.4,595.2 1060.6,596.2 1060.6,597.6C1060.7,599 1060.6,600.9 1060.6,602.6C1060.6,604.3 1060.9,606.5 1060.6,607.6C1060.4,608.8 1059.6,608.9 1059,609.5C1058.4,610.1 1057.7,610.8 1057.1,611.4C1056.5,612 1055.9,612.4 1055.2,612.9L1055.2,616.4L607.6,616.4Z"/>
<path class="s a" fill="#ffffff" d="M470.5,615.2 470.5,612.9 472.4,610.1 473.2,606.4 473.2,603.2 472.7,601.3 471.7,603.9 469.8,605.7 467.3,606.4 463.6,606.1 459.8,604.9 456.7,603.2 454.1,601.3 452.3,599.5 451.4,597.6 452.9,595.7 456.7,595.1 460.4,594.8 462.3,592.5 462.7,588.8 461.9,585 461.7,581.2 463.6,579.7 466.1,580.6 467,583.8 467.3,586.9 469.2,587.3 470.2,584.4 470.7,581.9 473,580.6 474.2,577.5 474,573.7 472.4,571.8 469.8,570.6 469,568 470.2,565.9 473,565.5 475.5,566.2 478,566.2 478.6,563 479.9,560.5 482,558 483.7,555.5 484.9,552.3 485.3,549.6 488.1,548.8 491.8,548.3 493.7,547.1 496.2,545.8 499.4,545.4 502.5,545.4 503.4,547.1 501.3,547.6 498.8,547.9 498.4,550.8 496.2,551.7 493.1,552.6 490,554.2 487.4,556.7 486.8,559.9 486.6,563 484.3,564.9 481.5,566.2 479.3,566.8 479.3,570.6 480.5,574.3 482.4,578.1 484.3,581.9 484.9,586.3 486.2,590 487.4,593.8 488.1,598.2 489.1,602.6 490.3,606.4 491.2,610.1 491.6,612.9 491.6,615.2Z"/>
<path class="s a" fill="#ffffff" d="M393.2,601.3 395.1,600.1 398.8,599.8 402.6,600.1 404.5,601.3 405.8,603.9 408.3,605.7 411.4,606.6 416.4,607.4 421.5,608.3 425.2,608.9 426.5,610.1 432.8,610.4 439.1,610.4 444.1,610.1 446,608.6 449.1,607.9 453.5,607.9 456.7,608.3 456.9,610.8 456.9,615.2 404.5,615.2 403.9,612.9 402.6,611.4 400.1,609.5 397.6,607 395.1,604.5 393.6,602.6Z"/>
<path class="ns" fill="#000" d="M398,613.2 399.1,611.1 400.7,611.4 402.4,613.2Z"/>
<path class="s c" fill="#00cc00" d="M333.2,53.9 332.8,50.2 335.7,47 338.8,43.2 342,39.5 346.4,37.6 350.8,35.1 353.3,35.1 353.7,38.8 352,42 350.8,46.4 347,47 343.2,47.6 342.6,51.4 341.4,53.9 337.6,54.2Z"/>
<path class="s c" fill="#00cc00" d="M350.8,58.3 353.3,53.3 355.8,50.2 358.3,49.5 361.5,52 364,55.2 365.9,56.4 367.8,54.6 367.1,50.2 368.4,46.4 370.3,43.9 372.2,47 375.3,50.2 377.2,53.3 377.6,57.7 377.2,61.5 374,62.1 370.3,62.7 366.5,64 363.4,65.9 359,65.5 355.2,64.6 353.9,61.5Z"/>
<path class="s c" fill="#00cc00" d="M380.9,47 383.5,46.4 386.6,48.9 389.1,47 391.6,44.5 394.8,44.9 396.9,47 397.7,51.4 397.3,56.4 396.9,60.2 394.1,59.6 391,57.7 387.9,56.4 384.7,54.6 382.2,51.4Z"/>
<path class="s c" fill="#00cc00" d="M401.1,42.6 404.2,41.4 406.7,43.2 408.6,45.8 413,46.1 414.9,48.9 416.8,52 419.3,55.2 423,56.4 428.1,56.2 434.4,56.4 439.4,57.1 442.1,59 442.5,63.4 441.3,65.2 435.6,65 431.8,65.2 429.3,67.1 424.3,66.5 419.3,65.5 415.5,64 413,61.5 411.1,57.7 409.8,53.3 408.6,50.2 405.5,50.2 401.7,49.9Z"/>
<path class="s c" fill="#00cc00" d="M418,45.1 420.5,43.2 423.7,40.7 424.3,36.3 423.3,33.2 426.8,31.9 426.2,27.5 425.6,20 451.3,20 449.4,28.8 447.5,33.2 445.7,37.6 444.4,41.4 445,45.1 442.5,48.3 438.8,49.9 433.1,49.5 428.1,49.9 423,50.2 419.9,48.9Z"/>
<path class="s c" fill="#00cc00" d="M380.9,20 402.9,20 402.3,28.8 400.4,30.7 396.7,31.1 392.9,31.3 389.7,29.4 386,28.8 382.2,28.2 380.9,26.3Z"/>
<path class="s c" fill="#00cc00" d="M408.6,20 419.9,20 418,26.9 414.2,27.5 409.8,26.9Z"/>
<path class="s c" fill="#00cc00" d="M331.9,70.3 336.3,69 342,67.5 346.4,68.4 351.4,69.6 353.7,72.8 354.9,75.9 352,78.4 348.9,80.9 345.8,84.1 343.9,87.9 342.6,91.6 338.8,92.6 333.8,91.9 330.7,89.7 331.9,85.3 332.6,80.3 332.6,75.3Z"/>
<path class="s c" fill="#00cc00" d="M347,95.1 347.4,90.1 347.9,85.7 350.8,82.6 354.6,80.7 357.7,79.4 360.5,78.5 360,80.3 364,80.7 369,81.6 372.8,81.6 374.7,78.2 375.9,75.3 378.4,74.8 380.9,76 380.3,80.1 380.1,84.5 380.9,88.8 382.8,93.2 386,97 389.1,100.2 390.4,103.3 390.4,107.7 385.3,108.3 380.3,108.7 375.3,109.6 370.3,110.8 365.9,112.5 361.5,113 359,110.8 357.7,108.3 353.9,107.1 352.9,104.6 353.9,102 357.7,100.8 359,98.3 357.7,96.4 352.7,95.8 348.9,95.8Z"/>
<path class="s c" fill="#00cc00" d="M386,79.1 389.7,77.8 391,72.8 394.1,70.9 398.5,70.3 400.4,71.5 399.8,76.5 400.2,82.8 399.8,87.9 397.9,91 394.8,92.3 392.3,89.7 390.4,86.6 387.2,84.7 386,81.6Z"/>
</g>
<path d="M1112.9,24.2H220.9V613.2H1112.9" fill="none" stroke="#000" stroke-width="1.3" stroke-linecap="square"/><path d="M1112.9,24.2V613.2" fill="none" stroke="#000" stroke-width="0.8"/>
<g stroke="#000" stroke-width="1.3"><rect x="145.9" y="226.80" width="36.3" height="45.48" fill="#cc0000"/><rect x="145.9" y="272.28" width="36.3" height="45.48" fill="#ff6600"/><rect x="145.9" y="317.76" width="36.3" height="45.48" fill="#ffcc00"/><rect x="145.9" y="363.24" width="36.3" height="45.48" fill="#3366ff"/><rect x="145.9" y="408.72" width="36.3" height="45.48" fill="#66ccff"/></g>

</svg>
<div class="title">Salinity (ppt)</div>
<div class="lab sm" style="top:235px">more than 37</div>
<div class="lab lg" style="top:261px">37</div>
<div class="lab lg" style="top:306px">36</div>
<div class="lab lg" style="top:351px">35</div>
<div class="lab lg" style="top:396px">34</div>
<div class="lab sm" style="top:425px">less than 34</div>
<div class="footer">© The University of Waikato Te Whare Wānanga o Waikato | www.sciencelearn.org.nz</div>
</body>
</html>
